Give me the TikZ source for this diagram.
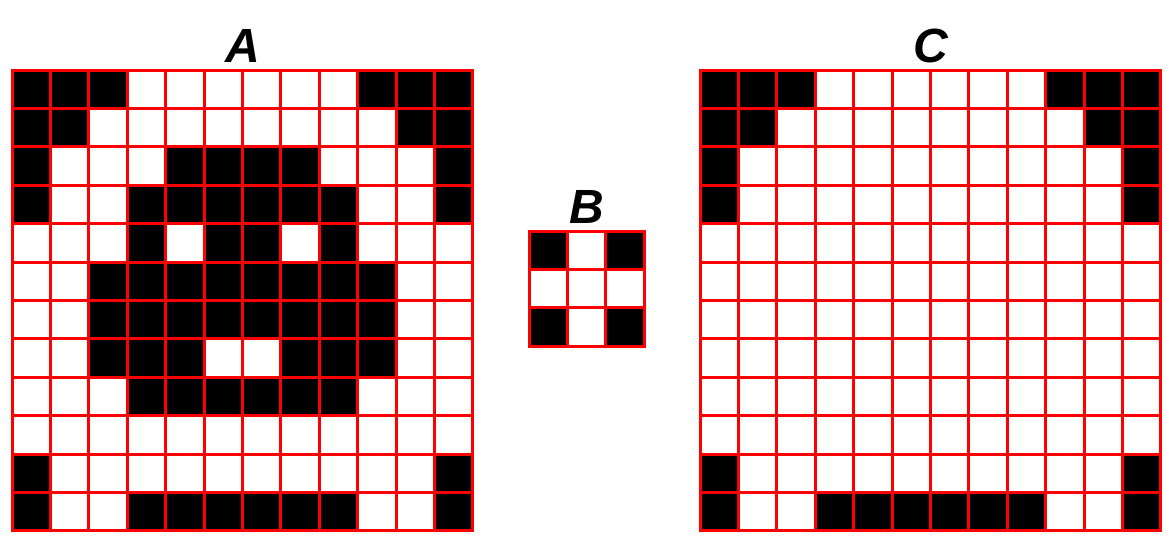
\documentclass[tikz,border=0pt]{standalone}
\usepackage{fontspec}
\setmainfont{Liberation Sans}
\newcommand\pixgrid[4]{%
  \foreach \row [count=\i] in {#4}{%
    \foreach \v [count=\j] in \row {%
      \ifnum\v=1
        \fill[cellfill] ({#1+(\j-1)*38.4},{#2+(\i-1)*38.4}) rectangle +(38.4,38.4);
      \fi
    }%
  }%
  \foreach \k in {0,...,#3}{%
    \draw[gridline] ({#1+\k*38.4},#2) -- ({#1+\k*38.4},{#2+#3*38.4});
    \draw[gridline] (#1,{#2+\k*38.4}) -- ({#1+#3*38.4},{#2+\k*38.4});
  }%
}
\begin{document}
\begin{tikzpicture}[x=1pt,y=-1pt,
  gridline/.style={red,line width=3pt,line cap=rect},
  cellfill/.style={fill=black},
  lab/.style={font=\fontsize{48}{48}\selectfont\bfseries\itshape,anchor=base,inner sep=0pt}]
\useasboundingbox (0,0) rectangle (1173,542);
% Grid A
\pixgrid{12}{70}{12}{
 {1,1,1,0,0,0,0,0,0,1,1,1},
 {1,1,0,0,0,0,0,0,0,0,1,1},
 {1,0,0,0,1,1,1,1,0,0,0,1},
 {1,0,0,1,1,1,1,1,1,0,0,1},
 {0,0,0,1,0,1,1,0,1,0,0,0},
 {0,0,1,1,1,1,1,1,1,1,0,0},
 {0,0,1,1,1,1,1,1,1,1,0,0},
 {0,0,1,1,1,0,0,1,1,1,0,0},
 {0,0,0,1,1,1,1,1,1,0,0,0},
 {0,0,0,0,0,0,0,0,0,0,0,0},
 {1,0,0,0,0,0,0,0,0,0,0,1},
 {1,0,0,1,1,1,1,1,1,0,0,1}}
% Grid B
\pixgrid{529}{231}{3}{
 {1,0,1},
 {0,0,0},
 {1,0,1}}
% Grid C
\pixgrid{700}{70}{12}{
 {1,1,1,0,0,0,0,0,0,1,1,1},
 {1,1,0,0,0,0,0,0,0,0,1,1},
 {1,0,0,0,0,0,0,0,0,0,0,1},
 {1,0,0,0,0,0,0,0,0,0,0,1},
 {0,0,0,0,0,0,0,0,0,0,0,0},
 {0,0,0,0,0,0,0,0,0,0,0,0},
 {0,0,0,0,0,0,0,0,0,0,0,0},
 {0,0,0,0,0,0,0,0,0,0,0,0},
 {0,0,0,0,0,0,0,0,0,0,0,0},
 {0,0,0,0,0,0,0,0,0,0,0,0},
 {1,0,0,0,0,0,0,0,0,0,0,1},
 {1,0,0,1,1,1,1,1,1,0,0,1}}
% Labels
\node[lab] (labA) at (242.4,62) {A};
\node[lab] (labB) at (586.6,223) {B};
\node[lab] (labC) at (930.4,62) {C};
\end{tikzpicture}
\end{document}
